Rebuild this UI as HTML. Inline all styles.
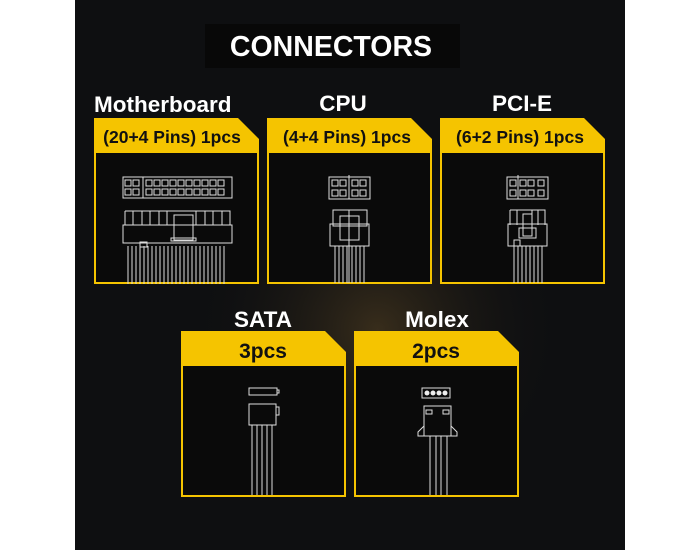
<!DOCTYPE html>
<html><head><style>
html,body{margin:0;padding:0;background:#fff;width:700px;height:550px;overflow:hidden}
svg{display:block}
text{font-family:"Liberation Sans",Arial,sans-serif;font-weight:bold}
</style></head><body>
<svg width="700" height="550" viewBox="0 0 700 550">
<defs>
<radialGradient id="g1" cx="0.55" cy="0.6" r="0.35">
<stop offset="0" stop-color="#4a3a20" stop-opacity="0.7"/>
<stop offset="1" stop-color="#0d0e10" stop-opacity="0"/>
</radialGradient>
</defs>
<rect x="75" y="0" width="550" height="550" fill="#0e0f11"/>
<rect x="75" y="0" width="550" height="550" fill="url(#g1)"/>
<rect x="205" y="24" width="255" height="44" fill="#080808"/>
<text x="331" y="56" fill="#fff" font-size="28.5" text-anchor="middle">CONNECTORS</text>

<g fill="#fff" font-size="22.5">
<text x="94" y="112">Motherboard</text>
<text x="343" y="111" text-anchor="middle">CPU</text>
<text x="522" y="111" text-anchor="middle">PCI-E</text>
<text x="263" y="327" text-anchor="middle">SATA</text>
<text x="437" y="327" text-anchor="middle">Molex</text>
</g>

<g>
<path d="M94 118 H238 L259 139 V284 H94 Z" fill="#f5c400"/>
<rect x="96" y="153" width="161" height="129" fill="#0a0a0a"/>
<path d="M267 118 H411 L432 139 V284 H267 Z" fill="#f5c400"/>
<rect x="269" y="153" width="161" height="129" fill="#0a0a0a"/>
<path d="M440 118 H584 L605 139 V284 H440 Z" fill="#f5c400"/>
<rect x="442" y="153" width="161" height="129" fill="#0a0a0a"/>
<path d="M181 331 H325 L346 352 V497 H181 Z" fill="#f5c400"/>
<rect x="183" y="366" width="161" height="129" fill="#0a0a0a"/>
<path d="M354 331 H498 L519 352 V497 H354 Z" fill="#f5c400"/>
<rect x="356" y="366" width="161" height="129" fill="#0a0a0a"/>
</g>
<g fill="#111" font-size="17.5">
<text x="172" y="143" text-anchor="middle">(20+4 Pins) 1pcs</text>
<text x="347" y="143" text-anchor="middle">(4+4 Pins) 1pcs</text>
<text x="520" y="143" text-anchor="middle">(6+2 Pins) 1pcs</text>
<text x="263" y="358" text-anchor="middle" font-size="21">3pcs</text>
<text x="436" y="358" text-anchor="middle" font-size="21">2pcs</text>
</g>

<g stroke="#ddd" stroke-width="1" fill="none">
<rect x="123" y="177" width="109" height="21"/>
<line x1="143" y1="177" x2="143" y2="198"/>
<g>
<rect x="125" y="180" width="6" height="6"/><rect x="133" y="180" width="6" height="6"/>
<rect x="146" y="180" width="6" height="6"/><rect x="154" y="180" width="6" height="6"/><rect x="162" y="180" width="6" height="6"/><rect x="170" y="180" width="6" height="6"/><rect x="178" y="180" width="6" height="6"/><rect x="186" y="180" width="6" height="6"/><rect x="194" y="180" width="6" height="6"/><rect x="202" y="180" width="6" height="6"/><rect x="210" y="180" width="6" height="6"/><rect x="218" y="180" width="6" height="6"/>
<rect x="125" y="189" width="6" height="6"/><rect x="133" y="189" width="6" height="6"/>
<rect x="146" y="189" width="6" height="6"/><rect x="154" y="189" width="6" height="6"/><rect x="162" y="189" width="6" height="6"/><rect x="170" y="189" width="6" height="6"/><rect x="178" y="189" width="6" height="6"/><rect x="186" y="189" width="6" height="6"/><rect x="194" y="189" width="6" height="6"/><rect x="202" y="189" width="6" height="6"/><rect x="210" y="189" width="6" height="6"/><rect x="218" y="189" width="6" height="6"/>
</g>
<path d="M125 211 H230 V225 M125 211 V225 M133 211V225 M142 211V225 M150 211V225 M159 211V225 M167 211V225 M196 211V225 M205 211V225 M213 211V225 M222 211V225"/>
<rect x="123" y="225" width="109" height="18"/>
<rect x="174" y="215" width="19" height="25"/>
<rect x="171" y="238" width="25" height="3"/>
<rect x="140" y="242" width="7" height="5"/>
<path d="M128 246V284 M132 246V284 M136 246V284 M140 246V284 M144 246V284 M148 246V284 M152 246V284 M156 246V284 M160 246V284 M164 246V284 M168 246V284 M172 246V284 M176 246V284 M180 246V284 M184 246V284 M188 246V284 M192 246V284 M196 246V284 M200 246V284 M204 246V284 M208 246V284 M212 246V284 M216 246V284 M220 246V284 M224 246V284"/>

<rect x="329" y="177" width="41" height="22"/>
<line x1="349" y1="175" x2="349" y2="199"/>
<rect x="332" y="180" width="6" height="6"/><rect x="340" y="180" width="6" height="6"/><rect x="352" y="180" width="6" height="6"/><rect x="360" y="180" width="6" height="6"/>
<rect x="332" y="190" width="6" height="6"/><rect x="340" y="190" width="6" height="6"/><rect x="352" y="190" width="6" height="6"/><rect x="360" y="190" width="6" height="6"/>
<rect x="333" y="210" width="34" height="16"/>
<rect x="330" y="224" width="39" height="22"/>
<rect x="340" y="216" width="19" height="24"/>
<line x1="349" y1="210" x2="349" y2="283"/>
<path d="M335 246V283 M339 246V283 M343 246V283 M347 246V283 M352 246V283 M356 246V283 M360 246V283 M364 246V283"/>

<rect x="507" y="177" width="41" height="22"/>
<line x1="518" y1="175" x2="518" y2="199"/>
<rect x="510" y="180" width="6" height="6"/><rect x="520" y="180" width="6" height="6"/><rect x="528" y="180" width="6" height="6"/><rect x="538" y="180" width="6" height="6"/>
<rect x="510" y="190" width="6" height="6"/><rect x="520" y="190" width="6" height="6"/><rect x="528" y="190" width="6" height="6"/><rect x="538" y="190" width="6" height="6"/>
<path d="M510 210H545V225 M510 210V225 M517 210V225 M532 210V225 M538 210V225"/>
<rect x="508" y="224" width="39" height="22"/>
<rect x="523" y="214" width="9" height="22"/>
<rect x="519" y="228" width="17" height="10"/>
<rect x="514" y="240" width="6" height="6"/>
<path d="M514 246V283 M518 246V283 M522 246V283 M526 246V283 M530 246V283 M534 246V283 M538 246V283 M542 246V283"/>

<rect x="249" y="388" width="28" height="7"/>
<rect x="277" y="390" width="2" height="3"/>
<rect x="249" y="404" width="27" height="21"/>
<rect x="276" y="407" width="3" height="8"/>
<path d="M252 425V495 M257 425V495 M262 425V495 M267 425V495 M272 425V495"/>

<rect x="422" y="388" width="28" height="10"/>
<rect x="424" y="406" width="27" height="30"/>
<rect x="426" y="410" width="6" height="4"/><rect x="443" y="410" width="6" height="4"/>
<path d="M424 426 L418 432 V436 H424 M451 426 L457 432 V436 H451"/>
<path d="M430 436V495 M436 436V495 M441 436V495 M447 436V495"/>
</g>
<g fill="#eee">
<circle cx="427" cy="393" r="2.5"/><circle cx="433" cy="393" r="2.5"/><circle cx="439" cy="393" r="2.5"/><circle cx="445" cy="393" r="2.5"/>
</g>
</svg>
</body></html>
